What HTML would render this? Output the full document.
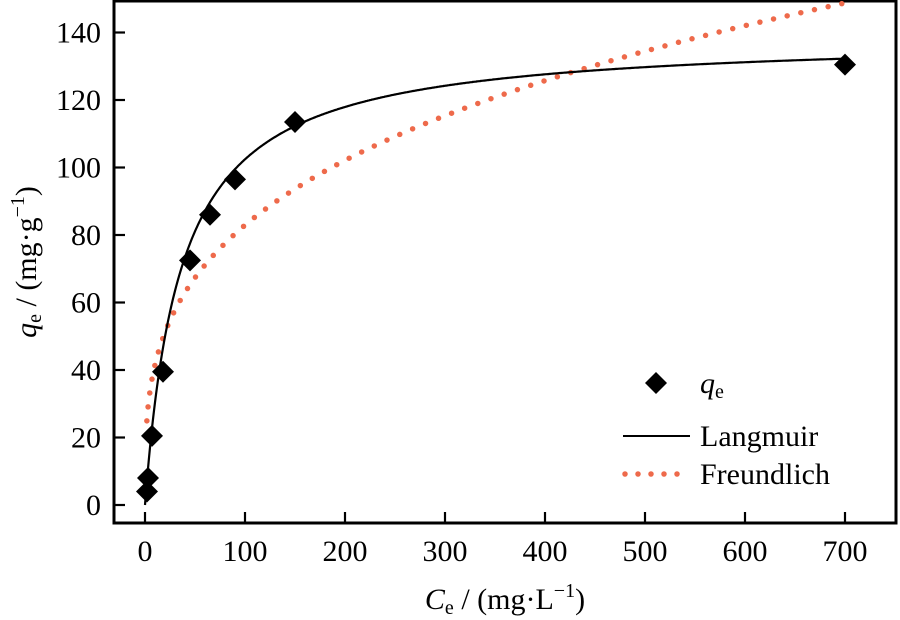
<!DOCTYPE html>
<html><head><meta charset="utf-8"><style>
html,body{margin:0;padding:0;background:#fff;}
svg{display:block;font-family:"Liberation Serif",serif;}
</style></head><body>
<svg id="chart" width="900" height="620" viewBox="0 0 900 620" xmlns="http://www.w3.org/2000/svg">
<g id="plot"></g>
</svg>
<script>
const xTicks=[0,100,200,300,400,500,600,700];
const yTicks=[0,20,40,60,80,100,120,140];
const ceValues=[2,3,7,18,45,65,90,150,700];
const qeValues=[4,8,20.5,39.5,72.5,86,96.5,113.5,130.5];
const langmuirQmax=[139];
const langmuirK=[0.028];
const freundlichKf=[20.8];
const freundlichN=[3.33];

const NS="http://www.w3.org/2000/svg";
const L=114,R=896,T=1,B=523;
const x=v=>145+v*1.0;
const y=v=>505-v*3.375;
const g=document.getElementById('plot');
function mk(tag,attrs,parent){const e=document.createElementNS(NS,tag);for(const k in attrs)e.setAttribute(k,attrs[k]);(parent||g).appendChild(e);return e;}

const frame=mk('rect',{x:L,y:T,width:R-L,height:B-T,fill:'none',stroke:'#000','stroke-width':3});



xTicks.forEach(v=>{
  const t=mk('line',{x1:x(v),x2:x(v),y1:B,y2:B-11,stroke:'#000','stroke-width':2.2});
  
  
  const s=mk('text',{x:x(v),y:561,'font-size':30,'text-anchor':'middle'});
  s.textContent=v;
  
  
});
yTicks.forEach(v=>{
  const t=mk('line',{x1:L,x2:L+11,y1:y(v),y2:y(v),stroke:'#000','stroke-width':2.2});
  
  
  const s=mk('text',{x:101,y:y(v)+10,'font-size':30,'text-anchor':'end'});
  s.textContent=v;
  
  
});

let fp=[];
for(let c=1;c<=700;c+=1){fp.push(x(c).toFixed(1)+','+y(freundlichKf[0]*Math.pow(c,1/freundlichN[0])).toFixed(1));}
const fl=mk('polyline',{points:fp.join(' '),fill:'none',stroke:'#ee6a4b','stroke-width':5.5,'stroke-linecap':'round','stroke-dasharray':'0 14'});



let lp=[];
for(let c=0;c<=700;c+=1){const q=langmuirQmax[0]*langmuirK[0]*c/(1+langmuirK[0]*c);lp.push(x(c).toFixed(1)+','+y(q).toFixed(1));}
const ll=mk('polyline',{points:lp.join(' '),fill:'none',stroke:'#000','stroke-width':2.2});



ceValues.forEach((c,i)=>{
  const cx=x(c),cy=y(qeValues[i]),d=11;
  const p=mk('polygon',{points:`${cx},${cy-d} ${cx+d},${cy} ${cx},${cy+d} ${cx-d},${cy}`,fill:'#000'});
  
  
});

const lg=mk('g',{});


const ld=mk('polygon',{points:'656,372 667,383 656,394 645,383',fill:'#000'},lg);


const lt1=mk('text',{x:700,y:393,'font-size':30},lg);
lt1.innerHTML='<tspan font-style="italic">q</tspan><tspan font-size="20" dy="5">e</tspan>';


const ll2=mk('line',{x1:623,x2:690,y1:436,y2:436,stroke:'#000','stroke-width':2},lg);


const lt2=mk('text',{x:700,y:446,'font-size':30},lg);
lt2.textContent='Langmuir';


const lf=mk('line',{x1:625,x2:690,y1:474,y2:474,stroke:'#ee6a4b','stroke-width':5.5,'stroke-linecap':'round','stroke-dasharray':'0 13'},lg);


const lt3=mk('text',{x:700,y:484,'font-size':30},lg);
lt3.textContent='Freundlich';



const xt=mk('text',{x:505,y:609,'font-size':30,'text-anchor':'middle'});
xt.innerHTML='<tspan font-style="italic">C</tspan><tspan font-size="20" dy="5">e</tspan><tspan dy="-5"> / (mg·L</tspan><tspan font-size="20" dy="-12">−1</tspan><tspan dy="12">)</tspan>';


const yt=mk('text',{x:0,y:0,'font-size':30,'text-anchor':'middle',transform:'translate(36,262) rotate(-90)'});
yt.innerHTML='<tspan font-style="italic">q</tspan><tspan font-size="20" dy="5">e</tspan><tspan dy="-5"> / (mg·g</tspan><tspan font-size="20" dy="-12">−1</tspan><tspan dy="12">)</tspan>';


</script>
</body></html>
